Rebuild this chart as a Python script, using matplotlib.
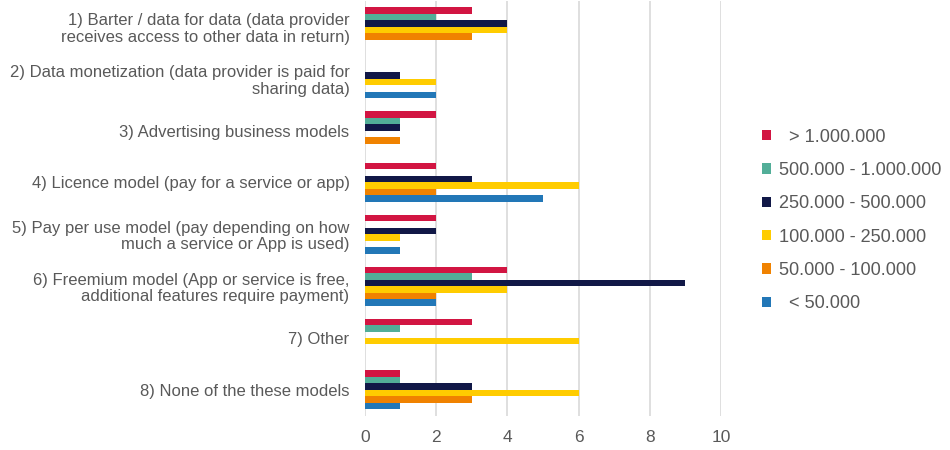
import numpy as np
import matplotlib
matplotlib.use("Agg")
import matplotlib.pyplot as plt
from matplotlib.patches import Patch

plt.rcParams['font.family'] = ['Liberation Sans', 'DejaVu Sans']

categories = [
    "1) Barter / data for data (data provider\nreceives access to other data in return)",
    "2) Data monetization (data provider is paid for\nsharing data)",
    "3) Advertising business models",
    "4) Licence model (pay for a service or app)",
    "5) Pay per use model (pay depending on how\nmuch a service or App is used)",
    "6) Freemium model (App or service is free,\nadditional features require payment)",
    "7) Other",
    "8) None of the these models",
]
series_names = ["  > 1.000.000", "500.000 - 1.000.000", "250.000 - 500.000",
                "100.000 - 250.000", "50.000 - 100.000", "  < 50.000"]
over_1m = [3, 0, 2, 2, 2, 4, 3, 1]
s500k_1m = [2, 0, 1, 0, 0, 3, 1, 1]
s250k_500k = [4, 1, 1, 3, 2, 9, 0, 3]
s100k_250k = [4, 2, 0, 6, 1, 4, 6, 6]
s50k_100k = [3, 0, 1, 2, 0, 2, 0, 3]
under_50k = [0, 2, 0, 5, 1, 2, 0, 1]
series = [over_1m, s500k_1m, s250k_500k, s100k_250k, s50k_100k, under_50k]
colors = ["#D21542", "#52AE98", "#111847", "#FFCC00", "#F08200", "#2277B7"]
text_color = "#595959"

fig = plt.figure(figsize=(9.5, 4.5), dpi=100)
ax = fig.add_axes([0.384, 0.076, 0.375, 0.922])

y = np.arange(len(categories))
h = 0.125
for i, (vals, c) in enumerate(zip(series, colors)):
    ax.barh(y + (i - 2.5) * h, vals, height=h, color=c, zorder=3)

ax.set_xlim(0, 10)
ax.set_ylim(len(categories) - 0.5, -0.5)
ax.set_xticks(range(0, 11, 2))
ax.set_yticks(y)
ax.set_yticklabels(categories, fontsize=12, color=text_color, linespacing=1.12)
ax.tick_params(axis="x", labelsize=12.5, labelcolor=text_color, length=0, pad=10)
ax.tick_params(axis="y", length=0, pad=11)
ax.grid(axis="x", color="#D9D9D9", linewidth=1.2, zorder=0)
for s in ax.spines.values():
    s.set_visible(False)

handles = [Patch(facecolor=c, edgecolor="none") for c in colors]
fig.legend(handles, series_names, loc="center left", bbox_to_anchor=(0.785, 0.51),
           frameon=False, fontsize=13.1, labelcolor=text_color, handlelength=0.5,
           handleheight=0.5, handletextpad=0.45, labelspacing=0.9)

fig.savefig("out.png", dpi=100)
